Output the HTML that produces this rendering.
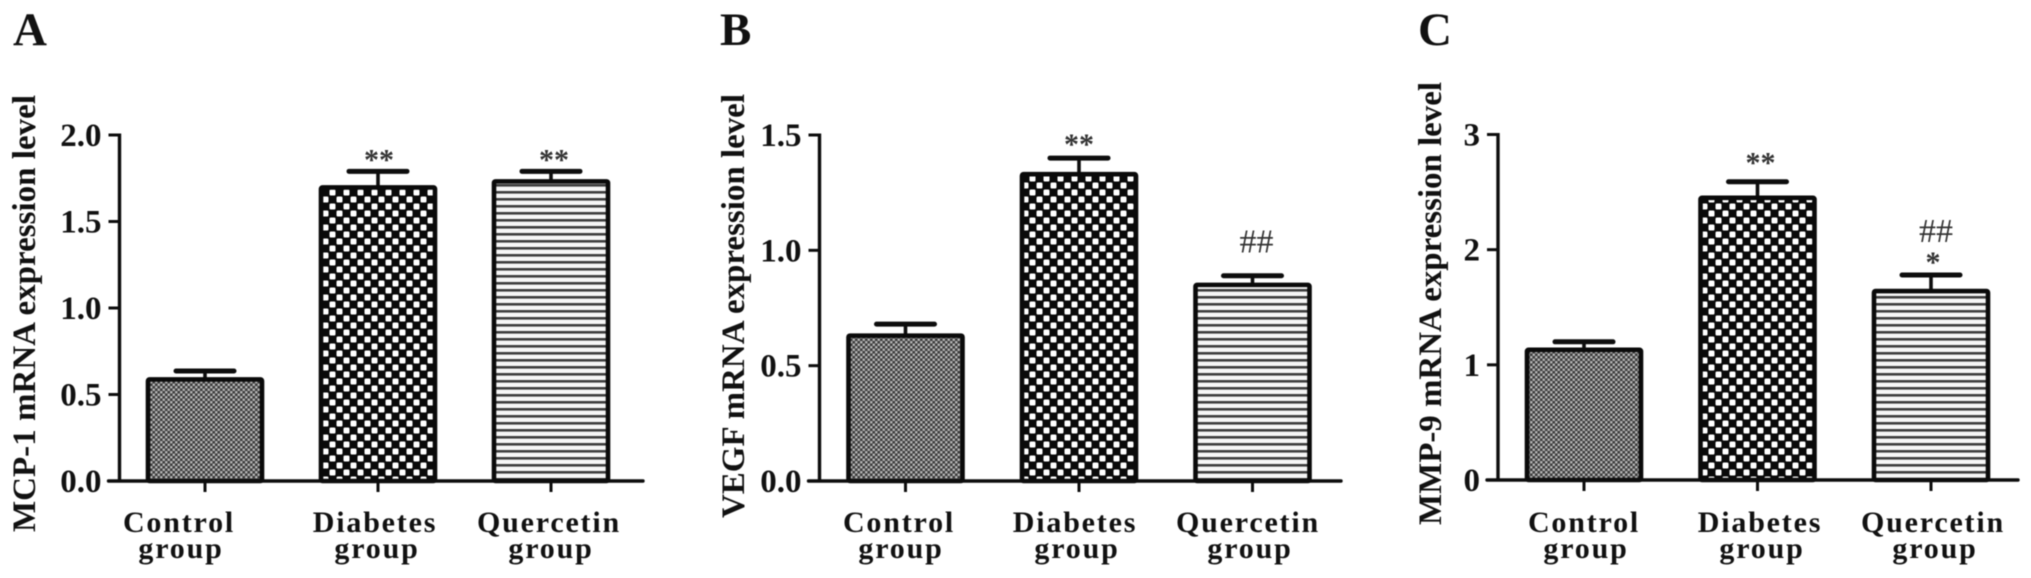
<!DOCTYPE html>
<html lang="en">
<head>
<meta charset="utf-8">
<title>mRNA expression levels</title>
<style>
html,body{margin:0;padding:0;background:#fff;width:2031px;height:578px;overflow:hidden}
svg{display:block;filter:blur(.55px)}
text{font-family:"Liberation Serif",serif;fill:#111}
</style>
</head>
<body>
<svg id="chart" xmlns="http://www.w3.org/2000/svg" width="2031" height="578" viewBox="0 0 2031 578">
<defs>
<pattern id="fine-check" width="5" height="5" patternUnits="userSpaceOnUse" patternTransform="translate(0 1)">
<rect width="5" height="5" fill="#3c3c3c"/>
<rect x="0.1" y="0.1" width="2.3" height="2.3" fill="#bdbdbd"/>
<rect x="2.6" y="2.6" width="2.3" height="2.3" fill="#bdbdbd"/>
</pattern>
<pattern id="coarse-check" width="14" height="14" patternUnits="userSpaceOnUse">
<rect width="14" height="14" fill="#0a0a0a"/>
<rect x="0.5" y="0.5" width="6" height="6" rx="1.4" fill="#fff"/>
<rect x="7.5" y="7.5" width="6" height="6" rx="1.4" fill="#fff"/>
</pattern>
<pattern id="h-stripes" width="7" height="7" patternUnits="userSpaceOnUse">
<rect width="7" height="7" fill="#f6f6f6"/>
<rect y="2" width="7" height="2.6" fill="#3e3e3e"/>
</pattern>
</defs>
</svg>
<script>
// ---- data ----
const categories = ['Control group', 'Diabetes group', 'Quercetin group'];
const mcp1Values = [0.6, 1.71, 1.745];
const mcp1ErrorTops = [0.636, 1.79, 1.79];
const mcp1Ticks = ['0.0', '0.5', '1.0', '1.5', '2.0'];
const mcp1Marks = [[], ['**'], ['**']];
const vegfValues = [0.64, 1.34, 0.86];
const vegfErrorTops = [0.68, 1.4, 0.89];
const vegfTicks = ['0.0', '0.5', '1.0', '1.5'];
const vegfMarks = [[], ['**'], ['##']];
const mmp9Values = [1.15, 2.47, 1.66];
const mmp9ErrorTops = [1.2, 2.59, 1.78];
const mmp9Ticks = ['0', '1', '2', '3'];
const mmp9Marks = [[], ['**'], ['*', '##']];

// ---- layout ----
const SVGNS = 'http://www.w3.org/2000/svg';
const root = document.getElementById('chart');
const fills = ['url(#fine-check)', 'url(#coarse-check)', 'url(#h-stripes)'];
const panels = [
  {key: 'a', letter: 'A', letterX: 13, axisX: 119.5, endX: 643, y0: 481, yTop: 135, yMax: 2.0,
   barCenters: [205, 378, 551], labelCenters: [179, 375, 549],
   title: 'MCP-1 mRNA expression level', titleX: 35, titleY: 532, titleLen: 437,
   values: mcp1Values, tops: mcp1ErrorTops, ticks: mcp1Ticks, marks: mcp1Marks, markShift: [0, 1, 3], markGap: [0, 2, 2]},
  {key: 'b', letter: 'B', letterX: 720, axisX: 819.5, endX: 1341, y0: 481, yTop: 135, yMax: 1.5,
   barCenters: [905.5, 1079, 1252.5], labelCenters: [899, 1075, 1248],
   title: 'VEGF mRNA expression level', titleX: 744, titleY: 518, titleLen: 424,
   values: vegfValues, tops: vegfErrorTops, ticks: vegfTicks, marks: vegfMarks, markShift: [0, 0, 4], markGap: [0, 4, 23]},
  {key: 'c', letter: 'C', letterX: 1418, axisX: 1498, endX: 2018, y0: 480, yTop: 134.5, yMax: 3,
   barCenters: [1584, 1757.5, 1931], labelCenters: [1584, 1760, 1933],
   title: 'MMP-9 mRNA expression level', titleX: 1441, titleY: 525, titleLen: 443,
   values: mmp9Values, tops: mmp9ErrorTops, ticks: mmp9Ticks, marks: mmp9Marks, markShift: [0, 3, 2], markGap: [0, 9, 3]}
];

function svgEl(tag, parent) {
  const el = document.createElementNS(SVGNS, tag);
  parent.appendChild(el);
  return el;
}
function drawLine(parent, name, x1, y1, x2, y2, width, cap) {
  const l = svgEl('line', parent);
  
  
  l.setAttribute('x1', x1);
  l.setAttribute('y1', y1);
  l.setAttribute('x2', x2);
  l.setAttribute('y2', y2);
  l.setAttribute('stroke', '#0d0d0d');
  l.setAttribute('stroke-width', width);
  l.setAttribute('stroke-linecap', cap || 'butt');
  return l;
}
function drawText(parent, name, str, x, y, size, weight, anchor, spacing, color) {
  const t = svgEl('text', parent);
  
  
  t.setAttribute('x', x);
  t.setAttribute('y', y);
  t.setAttribute('font-size', size);
  t.setAttribute('font-weight', weight);
  t.setAttribute('text-anchor', anchor);
  if (spacing) t.setAttribute('letter-spacing', spacing);
  if (color) t.style.fill = color;
  t.textContent = str;
  return t;
}

panels.forEach(function (p) {
  const g = svgEl('g', root);
  
  
  const yScale = function (v) { return p.y0 - (v / p.yMax) * (p.y0 - p.yTop); };

  drawText(g, 'panel-letter-' + p.key, p.letter, p.letterX, 45, 47, 'bold', 'start');

  const title = drawText(g, 'y-axis-title-' + p.key, p.title, 0, 0, 33, 'bold', 'start');
  title.setAttribute('transform', 'translate(' + p.titleX + ' ' + p.titleY + ') rotate(-90)');
  title.setAttribute('textLength', p.titleLen);

  // bars and error bars
  categories.forEach(function (cat, i) {
    const cx = p.barCenters[i];
    const topY = yScale(p.values[i]);
    const capY = yScale(p.tops[i]);
    const slug = cat.split(' ')[0].toLowerCase();

    drawLine(g, 'error-stem-' + p.key + '-' + slug, cx, capY, cx, topY + 2, 3.6);
    drawLine(g, 'error-cap-' + p.key + '-' + slug, cx - 29, capY, cx + 29, capY, 5, 'round');

    const bar = svgEl('rect', g);
    
    
    bar.setAttribute('x', cx - 57);
    bar.setAttribute('y', topY + 2.25);
    bar.setAttribute('width', 114);
    bar.setAttribute('height', p.y0 - topY - 2.25);
    bar.setAttribute('rx', 1.5);
    bar.setAttribute('fill', fills[i]);
    bar.setAttribute('stroke', '#0a0a0a');
    bar.setAttribute('stroke-width', 4.6);

    // significance marks, stacked upward from the error cap
    let baseline = capY - p.markGap[i];
    p.marks[i].forEach(function (mark, k) {
      const isHash = mark.charAt(0) === '#';
      const size = isHash ? 34 : 30;
      const mx = cx + p.markShift[i] + (isHash && p.key === 'c' ? 3 : 0);
      drawText(g, 'significance-mark-' + p.key + '-' + slug + '-' + k, mark, mx, baseline, size, isHash ? 'normal' : 'bold', 'middle', 0, '#333');
      baseline -= 30;
    });

    // x tick and label
    drawLine(g, 'x-tick-' + p.key + '-' + slug, cx, p.y0, cx, p.y0 + 11, 3);
    const words = cat.split(' ');
    drawText(g, 'x-label-' + p.key + '-' + slug + '-line1', words[0], p.labelCenters[i], 532, 30, 'bold', 'middle', 1.8);
    drawText(g, 'x-label-' + p.key + '-' + slug + '-line2', words[1], p.labelCenters[i] + 2, 558, 30, 'bold', 'middle', 1.8);
  });

  // axes
  drawLine(g, 'y-axis-' + p.key, p.axisX, p.yTop - 1.5, p.axisX, p.y0 + 1.5, 3.4);
  drawLine(g, 'x-axis-' + p.key, p.axisX - 11, p.y0, p.endX, p.y0, 3.4, 'round');
  p.ticks.forEach(function (label) {
    const ty = yScale(parseFloat(label));
    drawLine(g, 'y-tick-' + p.key + '-' + label, p.axisX - 11, ty, p.axisX, ty, 3);
    drawText(g, 'y-tick-label-' + p.key + '-' + label, label, p.axisX - 18, ty + 11, 33, 'bold', 'end');
  });
});
</script>
</body>
</html>
